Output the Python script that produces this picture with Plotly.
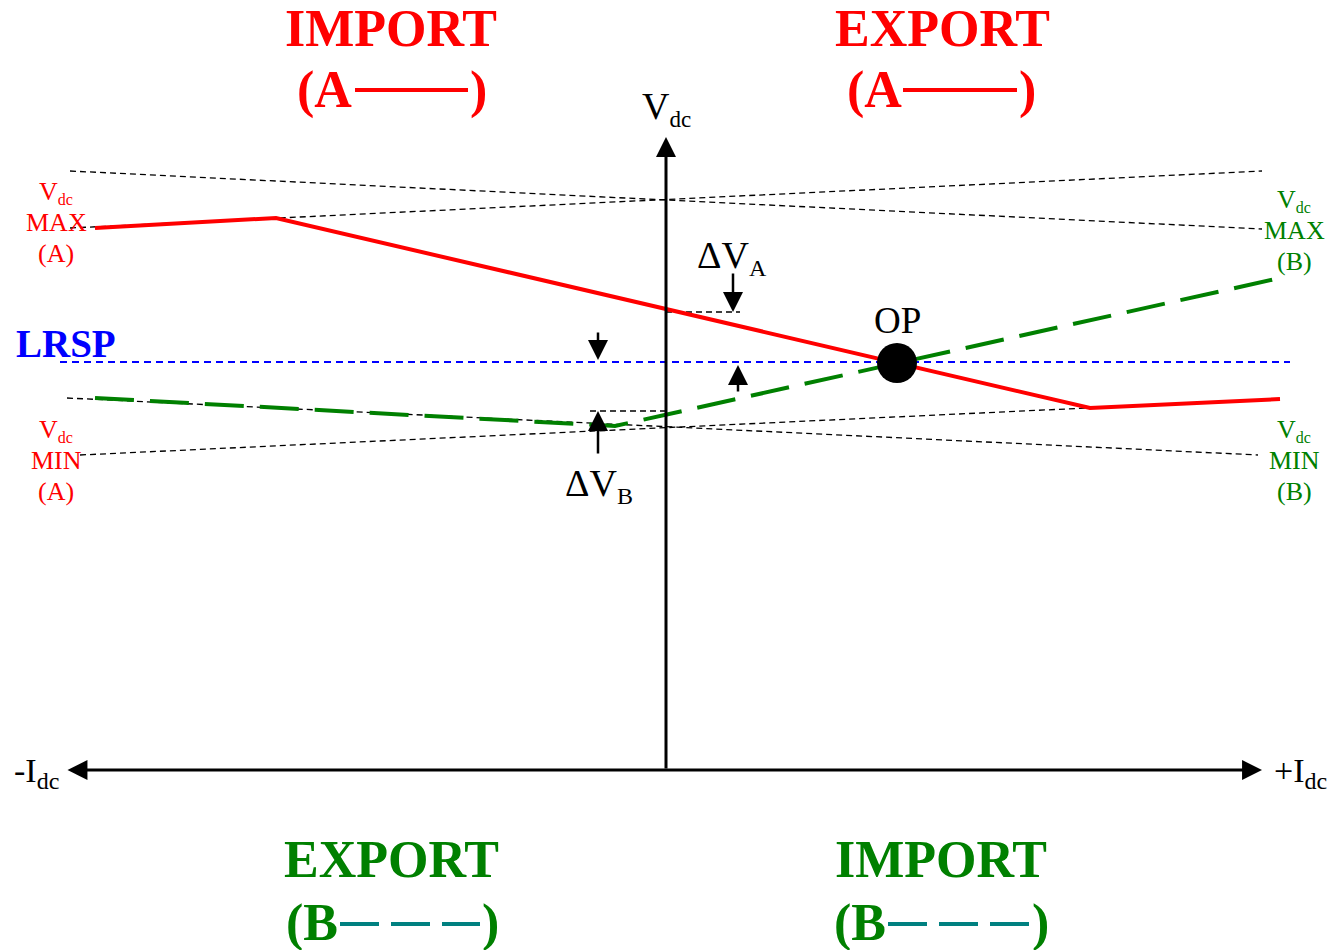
import plotly.graph_objects as go

# Diagram units: x = DC current, y = DC voltage, origin where the two axes cross.

# converter A characteristic (solid red)
A_I = [-5.71, -3.90, 4.24, 6.14]
A_V = [5.42, 5.52, 3.62, 3.71]

# converter B characteristic (dashed green)
B_I = [-5.71, -0.51, 6.14]
B_V = [3.72, 3.44, 4.92]

# voltage limit lines (thin dashed black)
VMAX_A_I = [-5.96, 5.96]
VMAX_A_V = [5.42, 5.99]
VMAX_B_I = [-5.96, 5.96]
VMAX_B_V = [5.99, 5.41]
VMIN_A_I = [-5.86, 6.14]
VMIN_A_V = [3.15, 3.71]
VMIN_B_I = [-5.99, 5.92]
VMIN_B_V = [3.72, 3.15]

# reference set point
LRSP_I = [-6.06, 6.24]
LRSP_V = 4.08

# operating point
OP_I = 2.31
OP_V = 4.07

# short guides for the delta-V marks
DVA_I = [0.0, 0.74]
DVA_V = 4.58
DVB_I = [-0.76, 0.0]
DVB_V = 3.59

# axes extents
I_AXIS = [-6.00, 5.96]
V_AXIS = [0.0, 6.33]

# small arrows: tip current, tip voltage, tail current, tail voltage
ARROW_TIP_I = [0.67, -0.68, 0.72, -0.68]
ARROW_TIP_V = [4.58, 4.10, 4.05, 3.59]
ARROW_TAIL_I = [0.67, -0.68, 0.72, -0.68]
ARROW_TAIL_V = [4.98, 4.39, 3.77, 3.15]

# line samples in the heading keys
KEY_A_I = [[-3.11, -1.98], [2.37, 3.51]]
KEY_A_V = 6.80
KEY_B_I = [[-3.26, -1.86], [2.22, 3.64]]
KEY_B_V = -1.54

RED = "#ff0000"
GREEN = "#008000"
BLUE = "#0000ff"
TEAL = "#008080"
FONT = "Liberation Serif"

fig = go.Figure()


def dashed(xs, ys):
    fig.add_trace(go.Scatter(x=xs, y=ys, mode="lines",
                             line=dict(color="black", width=1.3, dash="6px,4px")))


dashed(VMAX_A_I, VMAX_A_V)
dashed(VMAX_B_I, VMAX_B_V)
dashed(VMIN_A_I, VMIN_A_V)
dashed(VMIN_B_I, VMIN_B_V)
dashed(DVA_I, [DVA_V, DVA_V])
dashed(DVB_I, [DVB_V, DVB_V])

fig.add_trace(go.Scatter(x=LRSP_I, y=[LRSP_V, LRSP_V], mode="lines",
                         line=dict(color=BLUE, width=2, dash="7px,5px")))

fig.add_trace(go.Scatter(x=A_I, y=A_V, mode="lines",
                         line=dict(color=RED, width=4)))
fig.add_trace(go.Scatter(x=B_I, y=B_V, mode="lines",
                         line=dict(color=GREEN, width=4, dash="39px,16px")))

fig.add_trace(go.Scatter(x=[OP_I], y=[OP_V], mode="markers",
                         marker=dict(color="black", size=40)))

for xs in KEY_A_I:
    fig.add_trace(go.Scatter(x=xs, y=[KEY_A_V, KEY_A_V], mode="lines",
                             line=dict(color=RED, width=4)))
for xs in KEY_B_I:
    fig.add_trace(go.Scatter(x=xs, y=[KEY_B_V, KEY_B_V], mode="lines",
                             line=dict(color=TEAL, width=4, dash="39px,12px")))

ann = []


def arrow(x, y, ax, ay, width, size, both=False):
    ann.append(dict(x=x, y=y, ax=ax, ay=ay, xref="x", yref="y", axref="x", ayref="y",
                    text="", showarrow=True, arrowhead=2, startarrowhead=2,
                    arrowside="end+start" if both else "end",
                    arrowsize=size, startarrowsize=size, arrowwidth=width,
                    arrowcolor="black", standoff=0, startstandoff=0))


arrow(0, V_AXIS[1], 0, V_AXIS[0], 3, 1.33)
arrow(I_AXIS[1], 0, I_AXIS[0], 0, 3, 1.33, both=True)
for i in range(len(ARROW_TIP_I)):
    arrow(ARROW_TIP_I[i], ARROW_TIP_V[i], ARROW_TAIL_I[i], ARROW_TAIL_V[i], 2.5, 1.6)


def label(x, y, text, size, color="black", bold=False, xanchor="center"):
    if bold:
        text = "<b>" + text + "</b>"
    ann.append(dict(x=x, y=y, xref="x", yref="y", text=text, showarrow=False,
                    xanchor=xanchor, yanchor="middle",
                    font=dict(family=FONT, size=size, color=color)))


def sub(s, size):
    return '<sub><span style="font-size:%dpx">%s</span></sub>' % (size, s)


# headings
label(-2.75, 7.42, "IMPORT", 52, RED, True)
label(-3.12, 6.80, "(A", 52, RED, True, "right")
label(-1.98, 6.80, ")", 52, RED, True, "left")
label(2.76, 7.42, "EXPORT", 52, RED, True)
label(2.38, 6.80, "(A", 52, RED, True, "right")
label(3.51, 6.80, ")", 52, RED, True, "left")
label(-2.745, -0.895, "EXPORT", 52, GREEN, True)
label(-3.26, -1.525, "(B", 52, GREEN, True, "right")
label(-1.86, -1.525, ")", 52, GREEN, True, "left")
label(2.75, -0.895, "IMPORT", 52, GREEN, True)
label(2.22, -1.525, "(B", 52, GREEN, True, "right")
label(3.64, -1.525, ")", 52, GREEN, True, "left")

# axis and point labels
label(0.0, 6.62, "V" + sub("dc", 23), 38)
label(-6.30, -0.03, "-I" + sub("dc", 24), 34)
label(6.34, -0.03, "+I" + sub("dc", 24), 34)
label(0.655, 5.13, "\u0394V" + sub("A", 24), 38)
label(-0.67, 2.85, "\u0394V" + sub("B", 24), 38)
label(2.31, 4.495, "OP", 37)
label(-6.005, 4.27, "LRSP", 39, BLUE, True)


# limit labels, three lines each
def limit_label(x, y_top, kind, tag, color):
    label(x, y_top, "V" + sub("dc", 16), 26, color)
    label(x, y_top - 0.30, kind, 26, color)
    label(x, y_top - 0.61, tag, 26, color)


limit_label(-6.10, 5.78, "MAX", "(A)", RED)
limit_label(-6.10, 3.40, "MIN", "(A)", RED)
limit_label(6.28, 5.70, "MAX", "(B)", GREEN)
limit_label(6.28, 3.40, "MIN", "(B)", GREEN)

fig.update_layout(
    width=1332,
    height=950,
    margin=dict(l=0, r=0, t=0, b=0),
    paper_bgcolor="white",
    plot_bgcolor="white",
    showlegend=False,
    annotations=ann,
    xaxis=dict(range=[-6.66, 6.66], visible=False, fixedrange=True),
    yaxis=dict(range=[-1.80, 7.70], visible=False, fixedrange=True),
)

# drop the browser's default page margin so the figure sits at the window corner
fig.write_html("out.html", config={"displayModeBar": False},
               post_script="document.body.style.margin='0px';")
